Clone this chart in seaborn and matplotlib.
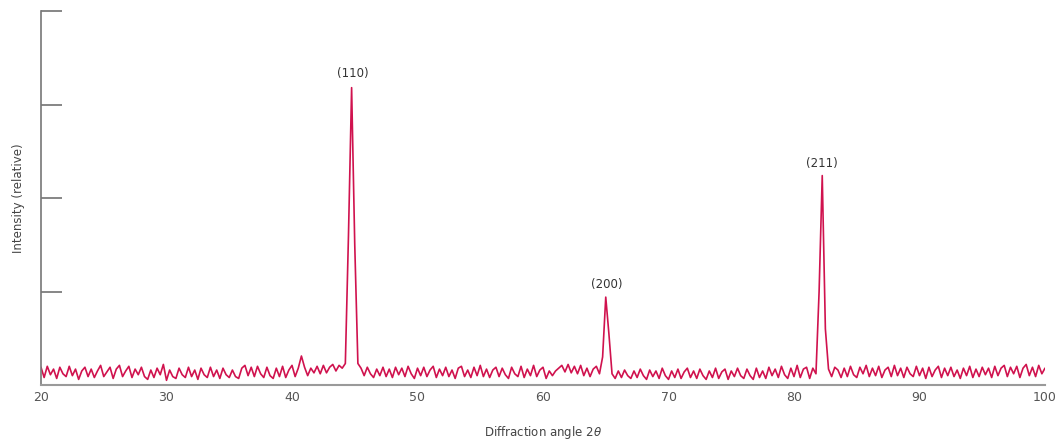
import numpy as np
import pandas as pd
import matplotlib
matplotlib.use("Agg")
import matplotlib.pyplot as plt
import seaborn as sns

# diffraction pattern at 0.25 degree steps (20 -> 100)
intensity = [
    0.19, 0.08, 0.20, 0.11, 0.17, 0.07, 0.19, 0.12, 0.09, 0.20, 0.10, 0.17, 0.06, 0.15, 0.19, 0.09,  # 20-24
    0.17, 0.08, 0.15, 0.21, 0.09, 0.14, 0.19, 0.07, 0.17, 0.21, 0.09, 0.15, 0.20, 0.08, 0.17, 0.11,  # 24-28
    0.19, 0.09, 0.06, 0.16, 0.08, 0.18, 0.11, 0.22, 0.05, 0.16, 0.09, 0.07, 0.18, 0.11, 0.08, 0.19,  # 28-32
    0.09, 0.16, 0.06, 0.18, 0.11, 0.08, 0.19, 0.09, 0.16, 0.07, 0.18, 0.11, 0.08, 0.16, 0.09, 0.07,  # 32-36
    0.18, 0.21, 0.10, 0.19, 0.09, 0.20, 0.12, 0.08, 0.19, 0.10, 0.07, 0.18, 0.09, 0.20, 0.08, 0.16,  # 36-40
    0.21, 0.09, 0.18, 0.31, 0.19, 0.10, 0.18, 0.13, 0.20, 0.12, 0.21, 0.13, 0.19, 0.22, 0.15, 0.21,  # 40-44
    0.18, 0.23, 1.60, 3.18, 1.50, 0.23, 0.18, 0.10, 0.19, 0.12, 0.08, 0.17, 0.10, 0.19, 0.09, 0.17,  # 44-48
    0.08, 0.19, 0.11, 0.18, 0.09, 0.20, 0.12, 0.07, 0.18, 0.10, 0.19, 0.09, 0.16, 0.20, 0.08, 0.17,  # 48-52
    0.10, 0.19, 0.09, 0.16, 0.07, 0.18, 0.20, 0.09, 0.16, 0.08, 0.19, 0.10, 0.21, 0.09, 0.17, 0.08,  # 52-56
    0.16, 0.19, 0.09, 0.18, 0.11, 0.07, 0.19, 0.12, 0.09, 0.20, 0.08, 0.17, 0.10, 0.21, 0.09, 0.16,  # 56-60
    0.19, 0.07, 0.15, 0.10, 0.15, 0.18, 0.21, 0.14, 0.22, 0.13, 0.20, 0.12, 0.21, 0.10, 0.18, 0.09,  # 60-64
    0.17, 0.20, 0.12, 0.30, 0.94, 0.55, 0.12, 0.07, 0.15, 0.08, 0.16, 0.10, 0.07, 0.15, 0.08, 0.17,  # 64-68
    0.10, 0.06, 0.16, 0.09, 0.15, 0.07, 0.18, 0.10, 0.06, 0.15, 0.08, 0.17, 0.07, 0.14, 0.18, 0.08,  # 68-72
    0.15, 0.07, 0.17, 0.10, 0.06, 0.15, 0.08, 0.18, 0.07, 0.14, 0.17, 0.06, 0.15, 0.09, 0.18, 0.10,  # 72-76
    0.07, 0.17, 0.10, 0.06, 0.18, 0.08, 0.15, 0.07, 0.19, 0.10, 0.17, 0.08, 0.20, 0.11, 0.07, 0.18,  # 76-80
    0.09, 0.21, 0.08, 0.17, 0.19, 0.07, 0.18, 0.12, 1.00, 2.24, 0.60, 0.17, 0.09, 0.19, 0.16, 0.08,  # 80-84
    0.18, 0.09, 0.20, 0.11, 0.08, 0.19, 0.12, 0.21, 0.09, 0.18, 0.10, 0.20, 0.08, 0.16, 0.19, 0.09,  # 84-88
    0.21, 0.10, 0.18, 0.08, 0.19, 0.12, 0.09, 0.20, 0.10, 0.18, 0.07, 0.19, 0.09, 0.16, 0.20, 0.08,  # 88-92
    0.18, 0.10, 0.19, 0.09, 0.16, 0.07, 0.18, 0.10, 0.20, 0.08, 0.17, 0.09, 0.19, 0.11, 0.18, 0.08,  # 92-96
    0.20, 0.10, 0.18, 0.21, 0.09, 0.19, 0.12, 0.20, 0.08, 0.18, 0.22, 0.10, 0.19, 0.09, 0.21, 0.12,  # 96-100
    0.18,
]
angle = np.linspace(20, 100, len(intensity))

# peak labels
peak_labels = ["(110)", "(200)", "(211)"]
peak_angles = [44.86, 65.1, 82.2]
peak_label_y = [3.33, 1.07, 2.37]

df = pd.DataFrame({"angle": angle, "intensity": intensity})

sns.set_style("white")
plt.rcParams["font.family"] = ["DejaVu Sans"]

fig = plt.figure(figsize=(10.59, 4.41), dpi=100)
ax = fig.add_axes([41 / 1059, 56 / 441, 1004 / 1059, 374 / 441])

sns.lineplot(data=df, x="angle", y="intensity", color="#d0124e", linewidth=1.2, ax=ax)

for lab, xa, ya in zip(peak_labels, peak_angles, peak_label_y):
    ax.text(xa, ya, lab, ha="center", va="center", fontsize=8.5, color="#333333")

ax.set_xlim(20, 100)
ax.set_ylim(0, 4)
ax.set_xticks(range(20, 101, 10))
ax.set_yticks([1, 2, 3, 4])
ax.set_yticklabels([])
ax.tick_params(axis="x", direction="in", length=4, width=1, colors="#777777",
               labelcolor="#555555", labelsize=9, pad=4)
ax.tick_params(axis="y", direction="in", length=15, width=1.1, colors="#666666", left=True)

ax.set_xlabel("Diffraction angle 2$\\theta$", fontsize=8.5, color="#444444", labelpad=15)
ax.set_ylabel("Intensity (relative)", fontsize=8.5, color="#444444", labelpad=8)

for side in ["top", "right"]:
    ax.spines[side].set_visible(False)
ax.spines["left"].set_color("#777777")
ax.spines["left"].set_linewidth(1.2)
ax.spines["bottom"].set_color("#9a9a9a")
ax.spines["bottom"].set_linewidth(1.5)

fig.savefig("out.png", dpi=100)
